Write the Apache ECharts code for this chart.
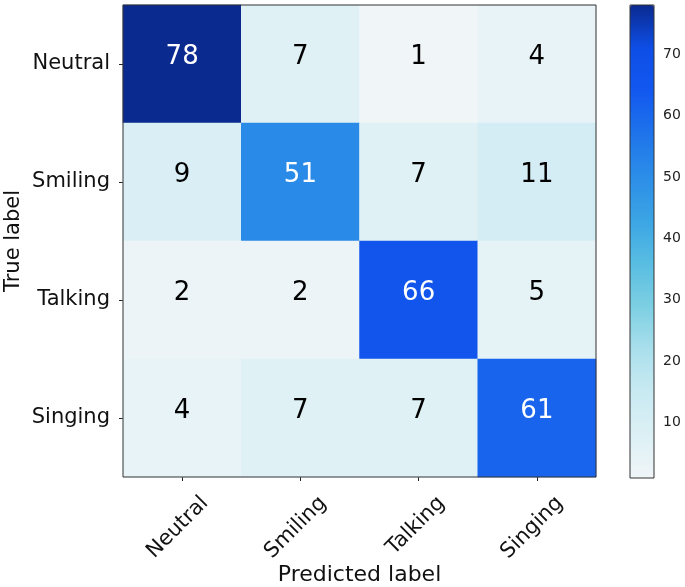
<!DOCTYPE html>
<html><head><meta charset="utf-8">
<script src="https://cdn.jsdelivr.net/npm/echarts@6/dist/echarts.min.js"></script>
<style>html,body{margin:0;padding:0;background:#fff}#c{width:685px;height:587px}</style>
</head><body><div id="c"></div>
<script>
var predictedLabels = ['Neutral', 'Smiling', 'Talking', 'Singing'];
var trueLabels = ['Neutral', 'Smiling', 'Talking', 'Singing'];
var rowNeutral = [78, 7, 1, 4];
var rowSmiling = [9, 51, 7, 11];
var rowTalking = [2, 2, 66, 5];
var rowSinging = [4, 7, 7, 61];
var colorbarTicks = [10, 20, 30, 40, 50, 60, 70];
var valueMin = 1, valueMax = 78;

var rows = [rowNeutral, rowSmiling, rowTalking, rowSinging];
var threshold = valueMax / 2;
var data = [];
rows.forEach(function (r, yi) {
  r.forEach(function (v, xi) {
    data.push({ value: [xi, yi, v], label: { color: v > threshold ? '#ffffff' : '#000000' } });
  });
});

var font = 'DejaVu Sans';
var chart = echarts.init(document.getElementById('c'));
chart.setOption({
  animation: false,
  backgroundColor: '#ffffff',
  textStyle: { fontFamily: font },
  grid: [
    { left: 123, top: 5, width: 473, height: 472, show: true, borderColor: '#333', borderWidth: 1, backgroundColor: 'transparent', z: 5, outerBoundsMode: 'none', containLabel: false },
    { left: 630, top: 5, width: 24, height: 473, show: true, borderColor: '#333', borderWidth: 1, backgroundColor: 'transparent', z: 10, outerBoundsMode: 'none', containLabel: false }
  ],
  xAxis: [
    {
      type: 'category', data: predictedLabels, gridIndex: 0,
      name: 'Predicted label', nameLocation: 'middle', nameGap: 87, nameMoveOverlap: false,
      nameTextStyle: { fontSize: 22, color: '#111', fontFamily: font },
      axisLine: { show: false },
      axisTick: { show: true, alignWithLabel: true, length: 4, lineStyle: { color: '#222' } },
      splitLine: { show: false },
      axisLabel: { rotate: 45, fontSize: 21, color: '#111', margin: 0, verticalAlign: 'top', padding: [22, 0, 0, 0], fontFamily: font }
    },
    { type: 'value', gridIndex: 1, min: 0, max: 1, show: false }
  ],
  yAxis: [
    {
      type: 'category', data: trueLabels, gridIndex: 0, inverse: true,
      name: 'True label', nameLocation: 'middle', nameGap: 99, nameRotate: 90, nameMoveOverlap: false,
      nameTextStyle: { fontSize: 21, color: '#111', fontFamily: font },
      axisLine: { show: false },
      axisTick: { show: true, alignWithLabel: true, length: 4, lineStyle: { color: '#222' } },
      splitLine: { show: false },
      axisLabel: { fontSize: 21, color: '#111', margin: 13, fontFamily: font }
    },
    {
      type: 'value', gridIndex: 1, min: valueMin, max: valueMax, position: 'right',
      axisLine: { show: false },
      splitLine: { show: false },
      axisTick: { show: true, length: 5, lineStyle: { color: '#222' }, customValues: colorbarTicks },
      axisLabel: { fontSize: 14, color: '#222', margin: 9, fontFamily: font, customValues: colorbarTicks }
    }
  ],
  visualMap: {
    type: 'continuous', min: valueMin, max: valueMax, seriesIndex: 0,
    orient: 'vertical', left: 630, top: 5, itemWidth: 24, itemHeight: 473,
    padding: 0, text: ['', ''], textGap: 0, calculable: false, hoverLink: false,
    inRange: { color: ['#f0f5f8', '#dcf0f5', '#c9eaf2', '#aadfec', '#7ccfe2', '#58bde2', '#3ba4e4', '#2c8ee8', '#1f74ea', '#1258f0', '#0e4ee6', '#0a2a90'] }
  },
  series: [{
    type: 'heatmap', xAxisIndex: 0, yAxisIndex: 0, data: data,
    label: { show: true, fontSize: 26, fontFamily: font, offset: [0, -7], formatter: function (p) { return p.value[2]; } },
    itemStyle: { borderWidth: 0 },
    emphasis: { disabled: true }
  }]
});
</script></body></html>
